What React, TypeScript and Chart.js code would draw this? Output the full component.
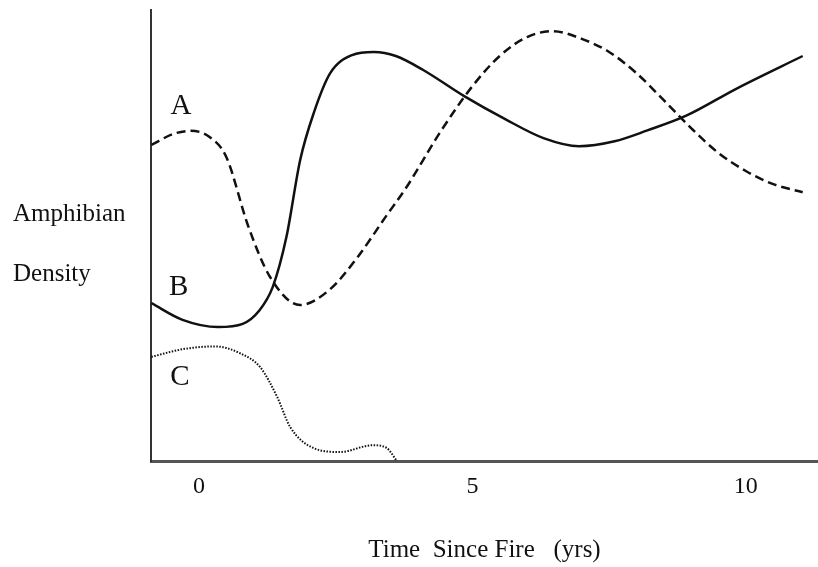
import React, { useEffect, useRef } from "react";
import { Chart, registerables } from "chart.js";

Chart.register(...registerables);

// X tick values
const X_TICKS = [0, 5, 10];

// Curve A (dashed)
const A_X = [-0.87, -0.45, -0.15, 0.2, 0.5, 0.9, 1.3, 1.85, 2.4, 2.9, 3.4, 3.8, 4.4, 5.0, 5.5, 6.0, 6.47, 7.0, 7.5, 8.0, 8.5, 9.0, 9.5, 10.0, 10.5, 11.04];
const A_Y = [70.1, 72.6, 73.2, 71.8, 67.4, 52.1, 40.8, 34.6, 38.1, 45.2, 53.9, 60.8, 72.7, 83.1, 89.8, 94.0, 95.3, 93.6, 90.7, 86.0, 80.0, 73.8, 68.3, 64.3, 61.4, 59.6];

// Curve B (solid)
const B_X = [-0.87, -0.3, 0.35, 0.8, 1.1, 1.35, 1.6, 1.85, 2.1, 2.4, 2.8, 3.2, 3.6, 4.1, 4.85, 5.6, 6.3, 6.95, 7.6, 8.2, 8.9, 9.85, 11.04];
const B_Y = [35.0, 31.3, 29.7, 30.4, 33.3, 38.6, 49.7, 66.7, 77.2, 86.0, 90.0, 90.7, 89.8, 86.7, 80.9, 75.8, 71.6, 69.8, 70.9, 73.3, 76.5, 82.7, 89.8];

// Curve C (dotted)
const C_X = [-0.87, -0.29, 0.3, 0.75, 1.12, 1.43, 1.67, 2.09, 2.58, 3.18, 3.43, 3.62];
const C_Y = [23.1, 24.8, 25.4, 23.9, 20.8, 14.2, 7.5, 2.9, 2.0, 3.5, 2.9, 0];

// Curve letter labels (data coordinates)
const LABEL_TEXT = ["A", "B", "C"];
const LABEL_X = [-0.33, -0.37, -0.35];
const LABEL_Y = [78.7, 38.6, 18.6];

const Y_TITLE_LINES = ["Amphibian", "Density"];
const X_TITLE = "Time  Since Fire   (yrs)";

const SERIF = "'Liberation Serif', 'DejaVu Serif', serif";
const INK = "#111";

const toPoints = (xs: number[], ys: number[]) => xs.map((x, i) => ({ x, y: ys[i] }));

export default function App() {
  const ref = useRef<HTMLCanvasElement | null>(null);

  useEffect(() => {
    const canvas = ref.current;
    if (!canvas) return;
    document.body.style.margin = "0";

    const annotate = {
      id: "annotate",
      afterDraw(chart: any) {
        const { ctx, scales } = chart;
        ctx.save();
        ctx.fillStyle = INK;
        ctx.textBaseline = "middle";
        ctx.textAlign = "center";
        ctx.font = `29px ${SERIF}`;
        LABEL_TEXT.forEach((t, i) => {
          ctx.fillText(t, scales.x.getPixelForValue(LABEL_X[i]), scales.y.getPixelForValue(LABEL_Y[i]));
        });
        ctx.textAlign = "left";
        ctx.font = `25px ${SERIF}`;
        ctx.fillText(Y_TITLE_LINES[0], 13, 214);
        ctx.fillText(Y_TITLE_LINES[1], 13, 274);
        ctx.restore();
      },
    };

    const common = {
      borderColor: INK,
      pointRadius: 0,
      cubicInterpolationMode: "monotone",
      fill: false,
    };

    const chart = new Chart(canvas, {
      type: "line",
      data: {
        datasets: [
          { ...common, label: "A", data: toPoints(A_X, A_Y), borderWidth: 2.5, borderDash: [9, 5] },
          { ...common, label: "B", data: toPoints(B_X, B_Y), borderWidth: 2.5 },
          { ...common, label: "C", data: toPoints(C_X, C_Y), borderWidth: 2, borderDash: [1.5, 1.5] },
        ],
      },
      options: {
        responsive: false,
        animation: false,
        layout: { padding: { left: 151, top: 10, right: 0, bottom: 0 } },
        plugins: {
          legend: { display: false },
          tooltip: { enabled: false },
          title: { display: false },
        },
        scales: {
          x: {
            type: "linear",
            min: -0.877,
            max: 11.32,
            grid: { display: false, drawTicks: false },
            border: { display: true, color: "#555", width: 3 },
            afterBuildTicks: (scale: any) => {
              scale.ticks = X_TICKS.map((v) => ({ value: v }));
            },
            afterFit: (scale: any) => {
              scale.height = 106;
            },
            ticks: {
              color: INK,
              font: { family: SERIF, size: 24 },
              padding: 11,
              maxRotation: 0,
              autoSkip: false,
              callback: (v: any) => String(v),
            },
            title: {
              display: true,
              text: X_TITLE,
              color: INK,
              font: { family: SERIF, size: 25 },
              padding: { top: 0, bottom: 2 },
            },
          },
          y: {
            type: "linear",
            min: 0,
            max: 100,
            grid: { display: false, drawTicks: false },
            border: { display: true, color: "#333", width: 2 },
            ticks: { display: false },
            afterFit: (scale: any) => {
              scale.width = 0;
            },
          },
        },
      },
      plugins: [annotate],
    } as any);

    return () => chart.destroy();
  }, []);

  return (
    <div style={{ position: "absolute", left: 0, top: 0, width: 818, height: 567, background: "#fff" }}>
      <canvas ref={ref} width={818} height={567} style={{ width: 818, height: 567, display: "block" }} />
    </div>
  );
}
